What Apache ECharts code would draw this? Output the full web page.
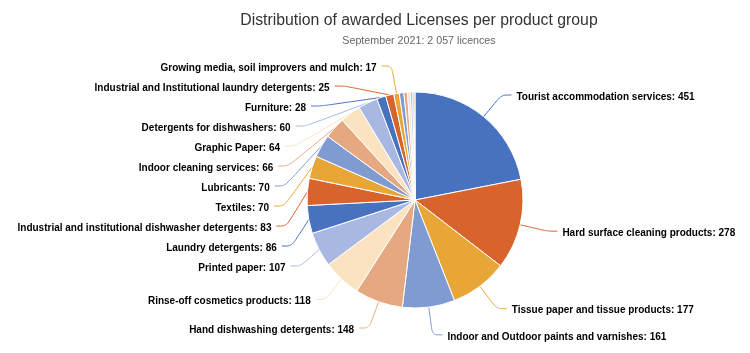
<!DOCTYPE html>
<html>
<head>
<meta charset="UTF-8" />
<title>Licenses per product group</title>
<script src="https://cdn.jsdelivr.net/npm/echarts@6/dist/echarts.min.js"></script>
<style>
  html, body { margin: 0; padding: 0; background: #fff; }
  #chart { width: 750px; height: 353px; }
</style>
</head>
<body>
<div id="chart"></div>
<script>
// product groups, in the order they are drawn (clockwise from 12 o'clock)
var groups = [
  'Tourist accommodation services',
  'Hard surface cleaning products',
  'Tissue paper and tissue products',
  'Indoor and Outdoor paints and varnishes',
  'Hand dishwashing detergents',
  'Rinse-off cosmetics products',
  'Printed paper',
  'Laundry detergents',
  'Industrial and institutional dishwasher detergents',
  'Textiles',
  'Lubricants',
  'Indoor cleaning services',
  'Graphic Paper',
  'Detergents for dishwashers',
  'Furniture',
  'Industrial and Institutional laundry detergents',
  'Growing media, soil improvers and mulch',
  'Converted paper',
  'Absorbent hygiene products',
  'Footwear',
  'Bed mattresses',
  'Floor coverings',
  'Sanitary tapware'
];
var licences = [451, 278, 177, 161, 148, 118, 107, 86, 83, 70, 70, 66, 64, 60, 28, 25, 17, 14, 11, 9, 7, 4, 3];
// the slivers after this index carry no label in the original
var labelledCount = 17;
var palette = ['#4672c0', '#d8632c', '#e8a636', '#7f9bcf', '#e6a880', '#fbe3c1', '#a8b8e3'];

var myChart = echarts.init(document.getElementById('chart'));

var pieData = [];
for (var i = 0; i < groups.length; i++) {
  var item = {
    name: groups[i],
    value: licences[i],
    itemStyle: { color: palette[i % palette.length] }
  };
  if (i >= labelledCount) {
    item.label = { show: false };
    item.labelLine = { show: false };
  }
  pieData.push(item);
}

myChart.setOption({
  animation: false,
  title: {
    text: 'Distribution of awarded Licenses per product group',
    subtext: 'September 2021: 2 057 licences',
    left: 414,
    top: 8,
    textAlign: 'center',
    itemGap: 7,
    textStyle: {
      fontFamily: 'Liberation Sans',
      fontSize: 15.8,
      fontWeight: 'normal',
      color: '#333333'
    },
    subtextStyle: {
      fontFamily: 'Liberation Sans',
      fontSize: 10.7,
      color: '#666666'
    }
  },
  series: [{
    type: 'pie',
    center: [415, 200],
    radius: [0, 108],
    startAngle: 90,
    clockwise: true,
    avoidLabelOverlap: true,
    itemStyle: { borderColor: '#ffffff', borderWidth: 1 },
    label: {
      show: true,
      formatter: '{b}: {c}',
      overflow: 'none',
      fontFamily: 'Liberation Sans',
      fontSize: 10,
      fontWeight: 'bold',
      lineHeight: 14,
      padding: [4, 0, 0, 0],
      color: '#000000'
    },
    labelLayout: { dy: 2 },
    labelLine: {
      show: true,
      length: 28,
      length2: 10,
      smooth: 0.3,
      lineStyle: { width: 1 }
    },
    data: pieData
  }]
});
</script>
</body>
</html>
